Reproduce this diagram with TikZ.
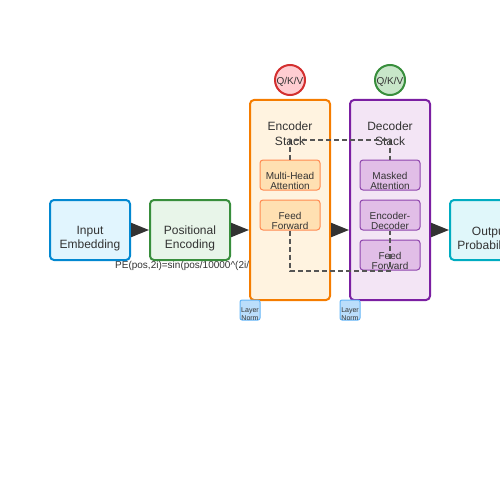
\documentclass[tikz,border=0pt]{standalone}
\usepackage{fontspec}
\setmainfont{Liberation Sans}
\usetikzlibrary{arrows.meta}
\definecolor{txt}{HTML}{333333}
\definecolor{dsh}{HTML}{555555}
\begin{document}
\begin{tikzpicture}[x=1pt,y=-1pt,
  box/.style={rectangle, rounded corners=4pt, line width=2pt, minimum width=80pt, minimum height=60pt, inner sep=0pt},
  sub/.style={rectangle, rounded corners=3pt, line width=1pt, minimum width=60pt, minimum height=30pt, inner sep=0pt},
  lbl/.style={text=txt, align=center, inner sep=0pt, font=\fontsize{12}{14.5}\selectfont},
  slbl/.style={text=txt, align=center, inner sep=0pt, font=\fontsize{10}{10}\selectfont},
  qkv/.style={circle, minimum size=30pt, inner sep=0pt, line width=2pt},
  norm/.style={rectangle, rounded corners=2pt, line width=1pt, fill={rgb,255:red,187;green,222;blue,251}, draw={rgb,255:red,100;green,181;blue,246}, minimum size=20pt, inner sep=0pt},
  nlbl/.style={text=txt, align=center, inner sep=0pt, font=\fontsize{7}{6}\selectfont},
  flow/.style={draw=txt, line width=2pt, -{Triangle[length=18pt,width=14pt]}},
  cross/.style={draw=dsh, line width=2pt, dash pattern=on 5pt off 3pt}]
\useasboundingbox (0,0) rectangle (500,500);
% input side
\node[anchor=west, slbl] (pe) at (115,266) {PE(pos,2i)=sin(pos/10000\^{}(2i/d))};
\node[box, fill={rgb,255:red,225;green,245;blue,254}, draw={rgb,255:red,2;green,136;blue,209}] (inemb) at (90,230) {};
\node[lbl] (inembtxt) at (90,238.5) {Input\\Embedding};
\node[box, fill={rgb,255:red,232;green,245;blue,233}, draw={rgb,255:red,56;green,142;blue,60}] (posenc) at (190,230) {};
\node[lbl] (posenctxt) at (190,238.5) {Positional\\Encoding};
% encoder
\node[box, minimum height=200pt, fill={rgb,255:red,255;green,243;blue,224}, draw={rgb,255:red,245;green,124;blue,0}] (enc) at (290,200) {};
\node[lbl] (enctxt) at (290,133.5) {Encoder\\Stack};
\node[sub, fill={rgb,255:red,255;green,224;blue,178}, draw={rgb,255:red,255;green,138;blue,80}] (mha) at (290,175) {};
\node[slbl] (mhatxt) at (290,181) {Multi-Head\\Attention};
\node[sub, fill={rgb,255:red,255;green,224;blue,178}, draw={rgb,255:red,255;green,138;blue,80}] (encff) at (290,215) {};
\node[slbl] (encfftxt) at (290,221) {Feed\\Forward};
\node[qkv, fill={rgb,255:red,255;green,205;blue,210}, draw={rgb,255:red,211;green,47;blue,47}] (encqkv) at (290,80) {};
\node[slbl] (encqkvtxt) at (290,81.5) {Q/K/V};
% decoder
\node[box, minimum height=200pt, fill={rgb,255:red,243;green,229;blue,245}, draw={rgb,255:red,123;green,31;blue,162}] (dec) at (390,200) {};
\node[lbl] (dectxt) at (390,133.5) {Decoder\\Stack};
\node[sub, fill={rgb,255:red,225;green,190;blue,231}, draw={rgb,255:red,142;green,68;blue,173}] (masked) at (390,175) {};
\node[slbl] (maskedtxt) at (390,181) {Masked\\Attention};
\node[sub, fill={rgb,255:red,225;green,190;blue,231}, draw={rgb,255:red,142;green,68;blue,173}] (encdec) at (390,215) {};
\node[slbl] (encdectxt) at (390,221) {Encoder-\\Decoder};
\node[sub, fill={rgb,255:red,225;green,190;blue,231}, draw={rgb,255:red,142;green,68;blue,173}] (decff) at (390,255) {};
\node[slbl] (decfftxt) at (390,261) {Feed\\Forward};
\node[qkv, fill={rgb,255:red,200;green,230;blue,201}, draw={rgb,255:red,56;green,142;blue,60}] (decqkv) at (390,80) {};
\node[slbl] (decqkvtxt) at (390,81.5) {Q/K/V};
% layer norms
\node[norm] (encnorm) at (250,310) {};
\node[nlbl] (encnormtxt) at (250,314) {Layer\\Norm};
\node[norm] (decnorm) at (350,310) {};
\node[nlbl] (decnormtxt) at (350,314) {Layer\\Norm};
% output
\node[box, fill={rgb,255:red,224;green,247;blue,250}, draw={rgb,255:red,0;green,172;blue,193}] (out) at (490,230) {};
\node[lbl] (outtxt) at (490,238.5) {Output\\Probabilities};
% arrows
\draw[flow] (inemb.east) -- (posenc.west);
\draw[flow] (posenc.east) -- (posenc.east -| enc.west);
\draw[flow] (posenc.east -| enc.east) -- (posenc.east -| dec.west);
\draw[flow] (posenc.east -| dec.east) -- (out.west);
% cross links
\draw[cross] (mha.north) -- ++(0,-20) -| (masked.north);
\draw[cross] (encff.south) -- ++(0,40) -| (encdec.south);
\end{tikzpicture}
\end{document}
